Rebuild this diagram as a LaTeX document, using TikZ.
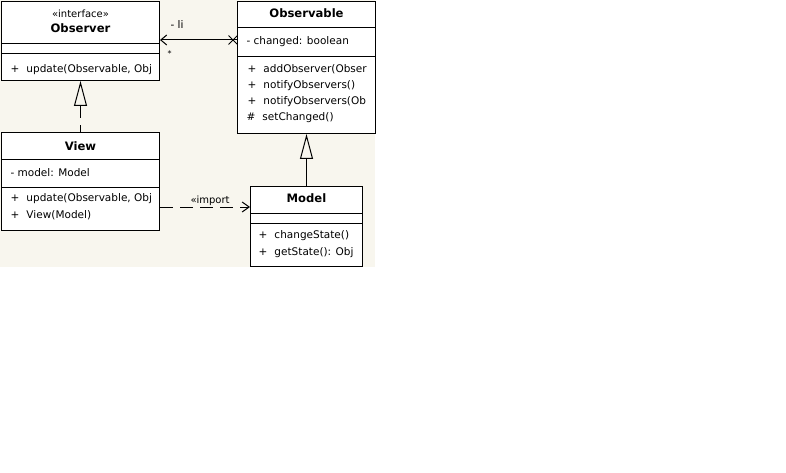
\documentclass[tikz,border=0pt]{standalone}
\usepackage{fontspec}
\setmainfont{DejaVu Sans}
\usetikzlibrary{arrows.meta,calc,shapes.misc}
\definecolor{umlback}{HTML}{F8F6EE}
\newcommand{\umlop}[2]{\makebox[16pt][l]{#1}#2}

\begin{document}
\begin{tikzpicture}[x=1pt,y=-1pt,line width=1pt,
                    umlclass/.style={draw,fill=white,inner sep=0pt,anchor=north west},
                    umltitle/.style={inner sep=0pt,anchor=base,font=\fontsize{11.6}{13}\selectfont\bfseries},
                    umlstereo/.style={inner sep=0pt,anchor=base,font=\fontsize{10}{11}\selectfont},
                    umlitem/.style={inner sep=0pt,anchor=base west,font=\fontsize{10.5}{12}\selectfont},
                    realize/.style={dash pattern=on 12pt off 7pt,dash phase=5pt,-{Triangle[open,length=25pt,width=13pt]}},
                    inherit/.style={-{Triangle[open,length=25pt,width=13pt]}},
                    depend/.style={dash pattern=on 13pt off 7pt,-{Straight Barb[length=7pt,width=10pt]}},
                    navigable/.style={-{Straight Barb[length=6pt,width=10pt]}}
]
\useasboundingbox (0,0) rectangle (786,473);
\fill[umlback] (0,0) rectangle (375,267);

\node [umlclass,minimum width=158pt,minimum height=79pt] at (1,1) (observer) {};
\node [umlclass,minimum width=138pt,minimum height=132pt] at (237,1) (observable) {};
\node [umlclass,minimum width=158pt,minimum height=98pt] at (1,132) (view) {};
\node [umlclass,minimum width=112pt,minimum height=80pt] at (250,186) (model) {};
\draw ($(observer.north west)+(0,43)$) -- ($(observer.north east)+(0,43)$);
\draw ($(observer.north west)+(0,53)$) -- ($(observer.north east)+(0,53)$);
\draw ($(observable.north west)+(0,27)$) -- ($(observable.north east)+(0,27)$);
\draw ($(observable.north west)+(0,56)$) -- ($(observable.north east)+(0,56)$);
\draw ($(view.north west)+(0,28)$) -- ($(view.north east)+(0,28)$);
\draw ($(view.north west)+(0,55)$) -- ($(view.north east)+(0,55)$);
\draw ($(model.north west)+(0,27)$) -- ($(model.north east)+(0,27)$);
\draw ($(model.north west)+(0,37)$) -- ($(model.north east)+(0,37)$);
%
\node [umlstereo] at ($(observer.north)+(0,17)$) (observer-stereo) {«interface»};
\node [umltitle] at ($(observer.north)+(0,32)$) (observer-name) {Observer};
\begin{scope}
\clip (observer.north west) rectangle ($(observer.south east)+(-2,0)$);
\node [umlitem] at ($(observer.north west)+(9,72)$) (observer-op1) {\umlop{+}{update(Observable, Obj}};
\end{scope}
%
\node [umltitle] at ($(observable.north)+(0,17)$) (observable-name) {Observable};
\begin{scope}
\clip (observable.north west) rectangle ($(observable.south east)+(-2,0)$);
\node [umlitem] at ($(observable.north west)+(9,44)$) (observable-attr1) {- changed: boolean};
\node [umlitem] at ($(observable.north west)+(10,72)$) (observable-op1) {\umlop{+}{addObserver(Obser}};
\node [umlitem] at ($(observable.north west)+(10,88)$) (observable-op2) {\umlop{+}{notifyObservers()}};
\node [umlitem] at ($(observable.north west)+(10,104)$) (observable-op3) {\umlop{+}{notifyObservers(Ob}};
\node [umlitem] at ($(observable.north west)+(9,120)$) (observable-op4) {\umlop{\#}{setChanged()}};
\end{scope}
%
\node [umltitle] at ($(view.north)+(0,18)$) (view-name) {View};
\begin{scope}
\clip (view.north west) rectangle ($(view.south east)+(-2,0)$);
\node [umlitem] at ($(view.north west)+(9,44)$) (view-attr1) {- model: Model};
\node [umlitem] at ($(view.north west)+(9,69)$) (view-op1) {\umlop{+}{update(Observable, Obj}};
\node [umlitem] at ($(view.north west)+(9,86)$) (view-op2) {\umlop{+}{View(Model)}};
\end{scope}
%
\node [umltitle] at ($(model.north)+(0,16)$) (model-name) {Model};
\begin{scope}
\clip (model.north west) rectangle ($(model.south east)+(-2,0)$);
\node [umlitem] at ($(model.north west)+(8,52)$) (model-op1) {\umlop{+}{changeState()}};
\node [umlitem] at ($(model.north west)+(8,69)$) (model-op2) {\umlop{+}{getState(): Obj}};
\end{scope}
%
\draw [realize] (view.north) -- (observer.south);
\draw [inherit] (model.north) -- (observable.south);
%
\node [cross out,draw,inner sep=0pt,minimum size=8pt] at (233,40) (li-end) {};
\draw [navigable] (observable.west |- li-end) -- (observer.east |- li-end);
\node [umlitem] at (170,29) (li-role) {- li};
\node [umlitem,font=\fontsize{8}{10}\selectfont] at (167,57) (li-mult) {*};
%
\coordinate (import-row) at (200,207);
\draw [depend] (view.east |- import-row) -- (model.west |- import-row);
\node [umlitem,font=\fontsize{10}{11}\selectfont] at (190,203) (import-label) {«import};

\end{tikzpicture}
\end{document}
